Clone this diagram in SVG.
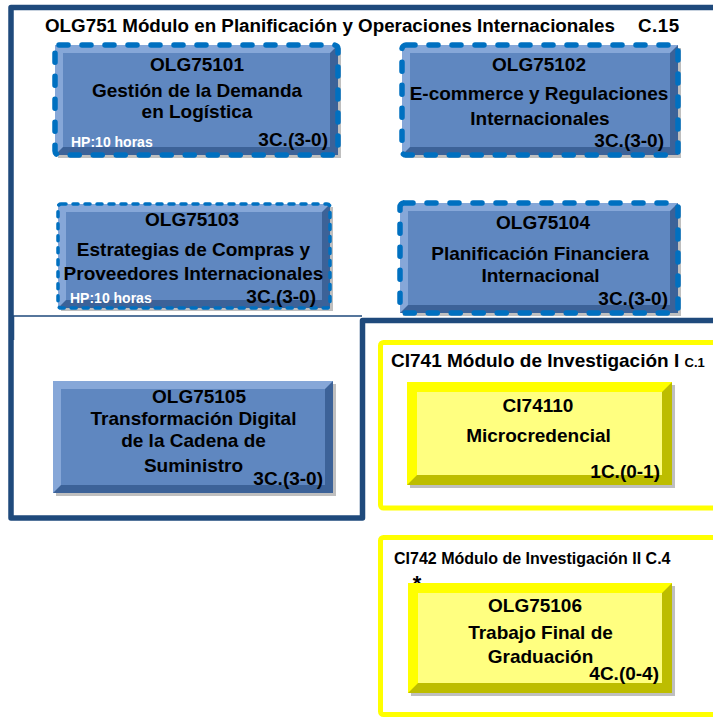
<svg xmlns="http://www.w3.org/2000/svg" width="713" height="717" viewBox="0 0 713 717">
<defs>
<style>
text{font-family:"Liberation Sans",Arial,sans-serif;font-weight:bold;fill:#000}
.t{font-size:19px;text-anchor:middle}
.c{font-size:19px;text-anchor:end}
.hp{font-size:14px;fill:#fff}
.frame{fill:none;stroke:#1F4A7C;stroke-width:5.5;stroke-linejoin:round}
.thin{fill:none;stroke:#1F4A7C;stroke-width:1.5}
.yf{fill:none;stroke:#FFFF00;stroke-width:5}
.bdark{fill:#3C6298}
.blight{fill:#86A7D8}
.bbase{fill:#5F87C0}
.ydark{fill:#BDBD00}
.ylight{fill:#FFFF00}
.ybase{fill:#FFFF80}
.shadow{fill:#000;opacity:0.25}
.dash{fill:none;stroke:#0070C0;stroke-width:5.5;stroke-dasharray:9 14;stroke-linecap:round}
.dash2{fill:none;stroke:#0070C0;stroke-width:3.5;stroke-dasharray:5 7;stroke-linecap:round}
</style>
</defs>
<rect width="713" height="717" fill="#fff"/>

<g id="frames">
<path class="frame" d="M716 7.5 H11 V518 H362.5 V320.5 H716"/>
<path class="thin" d="M13.5 340 V316 H362"/>
<rect class="yf" x="380.5" y="342.5" width="345" height="165.5" rx="3"/>
<rect class="yf" x="380.5" y="537.5" width="345" height="177" rx="3"/>
</g>

<g id="labels">
<text x="45" y="32" style="font-size:18.8px">OLG751 Módulo en Planificación y Operaciones Internacionales<tspan x="638" style="letter-spacing:0.5px">C.15</tspan></text>
<text x="391" y="367" style="font-size:19px">CI741 Módulo de Investigación I <tspan style="font-size:13px">C.1</tspan></text>
<text x="394" y="564" style="font-size:16px">CI742 Módulo de Investigación II C.4</text>
<text x="417" y="591" style="font-size:22px;text-anchor:middle">*</text>
</g>

<g id="OLG75101">
<rect class="shadow" x="58" y="48" width="283" height="110"/>
<rect class="bdark" x="55" y="45" width="283" height="110"/>
<polygon class="blight" points="55,45 338,45 330,53 63,53 63,147 55,155"/>
<rect class="bbase" x="63" y="53" width="267" height="94"/>
<rect class="dash" x="55" y="45" width="283" height="110" rx="4"/>
<text class="t" x="197" y="71">OLG75101</text>
<text class="t" x="197" y="97">Gestión de la Demanda</text>
<text class="t" x="197" y="118">en Logística</text>
<text class="hp" x="71" y="147">HP:10 horas</text>
<text class="c" x="328" y="146">3C.(3-0)</text>
</g>

<g id="OLG75102">
<rect class="shadow" x="405" y="48" width="276" height="110"/>
<rect class="bdark" x="402" y="45" width="276" height="110"/>
<polygon class="blight" points="402,45 678,45 670,53 410,53 410,147 402,155"/>
<rect class="bbase" x="410" y="53" width="260" height="94"/>
<rect class="dash" x="402" y="45" width="276" height="110" rx="4"/>
<text class="t" x="539" y="71">OLG75102</text>
<text class="t" x="539" y="100">E-commerce y Regulaciones</text>
<text class="t" x="540" y="125">Internacionales</text>
<text class="c" x="664" y="147">3C.(3-0)</text>
</g>

<g id="OLG75103">
<rect class="shadow" x="61" y="207" width="272" height="104"/>
<rect class="bdark" x="58" y="204" width="272" height="104"/>
<polygon class="blight" points="58,204 330,204 322,212 66,212 66,300 58,308"/>
<rect class="bbase" x="66" y="212" width="256" height="88"/>
<rect class="dash2" x="58" y="204" width="272" height="104" rx="3"/>
<text class="t" x="192" y="226">OLG75103</text>
<text class="t" x="193.5" y="256">Estrategias de Compras y</text>
<text class="t" x="193.5" y="280">Proveedores Internacionales</text>
<text class="hp" x="70" y="303">HP:10 horas</text>
<text class="c" x="316" y="303">3C.(3-0)</text>
</g>

<g id="OLG75104">
<rect class="shadow" x="403" y="206" width="278" height="110"/>
<rect class="bdark" x="400" y="203" width="278" height="110"/>
<polygon class="blight" points="400,203 678,203 670,211 408,211 408,305 400,313"/>
<rect class="bbase" x="408" y="211" width="262" height="94"/>
<rect class="dash" x="400" y="203" width="278" height="110" rx="4"/>
<text class="t" x="543" y="229">OLG75104</text>
<text class="t" x="540" y="260">Planificación Financiera</text>
<text class="t" x="540.5" y="282">Internacional</text>
<text class="c" x="668" y="305">3C.(3-0)</text>
</g>

<g id="OLG75105">
<rect class="shadow" x="56" y="384" width="280" height="112"/>
<rect class="bdark" x="53" y="381" width="280" height="112"/>
<polygon class="blight" points="53,381 333,381 325,389 61,389 61,485 53,493"/>
<rect class="bbase" x="61" y="389" width="264" height="96"/>
<text class="t" x="199" y="403">OLG75105</text>
<text class="t" x="193.5" y="425">Transformación Digital</text>
<text class="t" x="193.5" y="447">de la Cadena de</text>
<text class="t" x="193.5" y="472">Suministro</text>
<text class="c" x="323" y="485">3C.(3-0)</text>
</g>

<g id="CI74110">
<rect class="shadow" x="410" y="385" width="265" height="103"/>
<rect class="ydark" x="407" y="382" width="265" height="103"/>
<polygon class="ylight" points="407,382 672,382 662,392 417,392 417,475 407,485"/>
<rect class="ybase" x="417" y="392" width="245" height="83"/>
<text class="t" x="538" y="412">CI74110</text>
<text class="t" x="538.5" y="442">Microcredencial</text>
<text class="c" x="660" y="478">1C.(0-1)</text>
</g>

<g id="OLG75106">
<rect class="shadow" x="411" y="586" width="264" height="110"/>
<rect class="ydark" x="408" y="583" width="264" height="110"/>
<polygon class="ylight" points="408,583 672,583 662,593 418,593 418,683 408,693"/>
<rect class="ybase" x="418" y="593" width="244" height="90"/>
<text class="t" x="535" y="612">OLG75106</text>
<text class="t" x="540.5" y="639">Trabajo Final de</text>
<text class="t" x="540.5" y="663">Graduación</text>
<text class="c" x="659" y="680">4C.(0-4)</text>
</g>

<g id="connectors"/>
</svg>
